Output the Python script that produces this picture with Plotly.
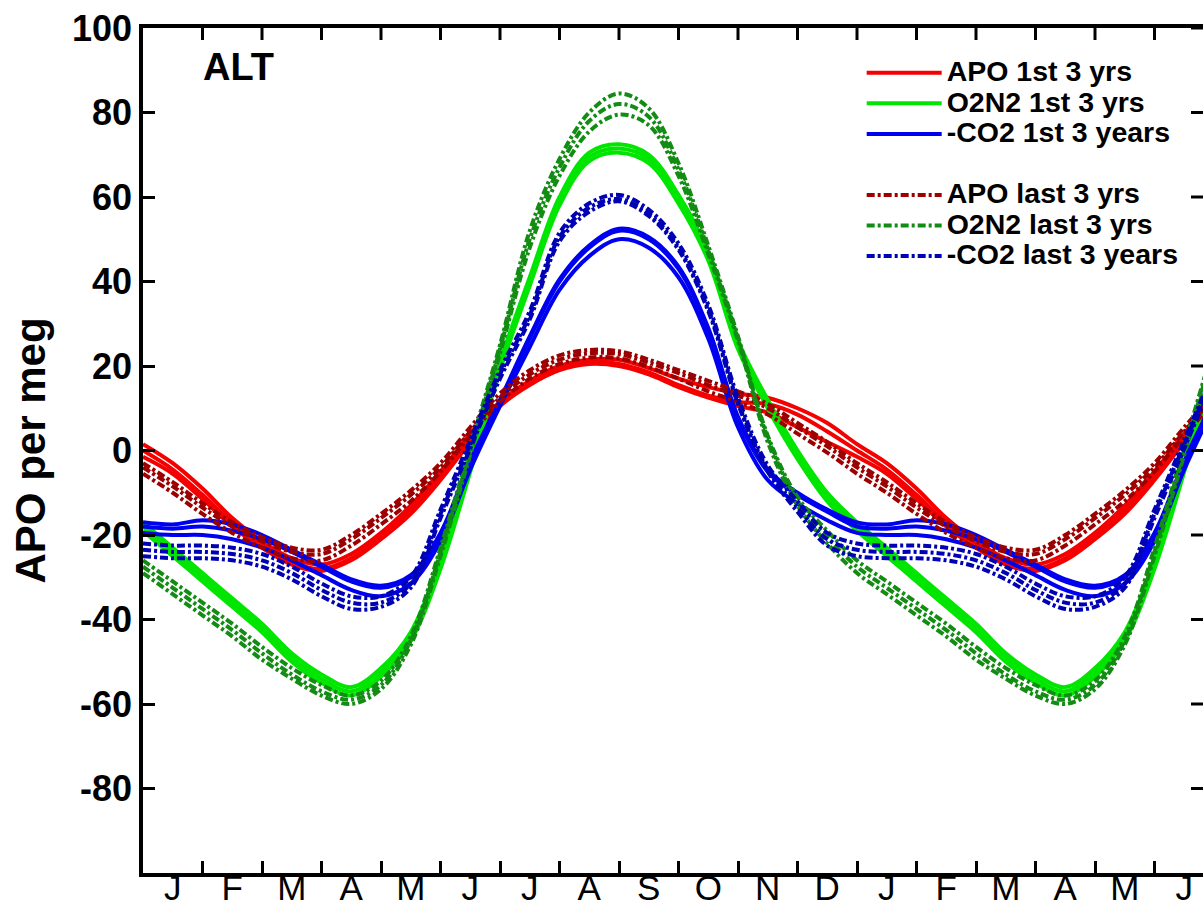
import plotly.graph_objects as go

# ---------------- data (values at half-month steps, Jan 1 = 0, one seasonal cycle) ----------------
MONTH_LABELS = ["J", "F", "M", "A", "M", "J", "J", "A", "S", "O", "N", "D",
                "J", "F", "M", "A", "M", "J"]
Y_TICKS = [-80, -60, -40, -20, 0, 20, 40, 60, 80, 100]
Y_TICK_TEXT = ["-80", "-60", "-40", "-20", "0", "20", "40", "60", "80", "100"]

# APO 1st 3 yrs (three years)
APO_FIRST_Y1 = [1.5, -3, -9, -16, -21.5, -25.5, -27, -24.5, -19.5, -13, -5, 4, 11.5, 16.5, 20, 21.5, 21.5, 19.5, 17, 15, 13.5, 12.5, 10, 6.5]
APO_FIRST_Y2 = [0, -4.5, -10.5, -17, -22, -26.5, -28, -25.5, -20.5, -14, -6, 3, 11, 16, 19.5, 21, 20.5, 18.5, 15.5, 13, 11.5, 11, 8.5, 4.5]
APO_FIRST_Y3 = [-1.5, -5.5, -11.5, -18, -23, -27, -28.5, -26, -21, -15, -7, 2, 10.5, 15.5, 19, 20.5, 20, 18, 15, 12.5, 10.5, 9, 5.5, 2]

# O2N2 1st 3 yrs
O2N2_FIRST_Y1 = [-17, -23, -29, -35, -41, -48, -53, -56, -51.5, -43, -26, -3, 21, 41, 60, 70.5, 72.5, 70, 60.5, 47, 26, 12, 0, -10]
O2N2_FIRST_Y2 = [-18, -24, -30, -36, -42, -49, -54, -57, -52.5, -44, -27, -4, 20, 40, 59, 69.5, 71.5, 69, 59.5, 46, 25, 11, -1, -11]
O2N2_FIRST_Y3 = [-19, -25, -31, -37, -43, -50, -55, -58, -53.5, -45, -28, -5, 19, 39, 58, 68.5, 70.5, 68, 58.5, 45, 24, 10, -2, -12]

# -CO2 1st 3 years
CO2_FIRST_Y1 = [-17, -17.5, -16.5, -17.5, -20, -23.5, -27, -30.5, -32, -29.5, -19.5, -2.5, 12, 27, 40.5, 48.5, 52.5, 50.5, 43.5, 29, 8, -4.5, -10, -14]
CO2_FIRST_Y2 = [-18, -18.5, -18, -19, -21, -24, -27.5, -31, -32.5, -30, -20, -3, 11.5, 26.5, 40, 48, 52, 50, 43, 28.5, 7.5, -5, -10.5, -14.5]
CO2_FIRST_Y3 = [-19.5, -20, -20, -21, -23, -26, -29.5, -33, -34.5, -31.5, -21.5, -4.5, 10.5, 24.5, 38, 46, 50, 48, 41, 26.5, 5.5, -7, -12.5, -16.5]

# APO last 3 yrs
APO_LAST_Y1 = [-3, -7.5, -12.5, -17, -20.5, -23, -23.5, -20, -15, -9.5, -3, 5.5, 13.5, 19, 22.5, 23.8, 23.5, 21.5, 19, 16.5, 14, 11, 6.5, 2]
APO_LAST_Y2 = [-4, -8.5, -13.5, -18, -21.5, -24, -24.5, -21, -16, -10.5, -4, 4.5, 12.5, 18, 21.5, 23, 22.8, 20.8, 18.3, 15.5, 13, 10, 5.5, 1]
APO_LAST_Y3 = [-5.5, -10, -15, -19.5, -23, -25.5, -26, -22.5, -17.5, -12, -5, 3.5, 11.5, 17, 20.5, 22, 21.8, 19.8, 17, 14, 11.5, 8.5, 4, -0.5]

# O2N2 last 3 yrs
O2N2_LAST_Y1 = [-26, -31, -36, -41, -46.5, -51.5, -55.5, -58, -54.5, -44, -23, 1, 25, 52, 69, 80, 84.5, 81, 68, 48.5, 27, 3.5, -11, -19]
O2N2_LAST_Y2 = [-27.5, -32.5, -37.5, -42.5, -48, -53, -57, -59, -55.5, -45, -24, 0, 24, 50, 67, 78, 82, 79, 66.5, 47.5, 26.5, 3, -12, -20.5]
O2N2_LAST_Y3 = [-29, -34, -39, -44, -49.5, -54, -58, -60, -56.5, -46, -25, -1, 23, 48, 65, 75.5, 79.5, 77, 65, 46.5, 26, 2, -13, -22]

# -CO2 last 3 years
CO2_LAST_Y1 = [-22, -22.5, -22.5, -23, -24.5, -27.5, -31.5, -34.5, -34.5, -30, -14, 2.5, 19, 33, 51.5, 58.5, 60.5, 57, 49, 34.5, 12.5, -3.5, -12, -19.5]
CO2_LAST_Y2 = [-23.5, -24, -24, -24.5, -26, -29, -33, -36, -36, -31.5, -15, 1.5, 18, 32, 50.5, 57.5, 59.5, 56, 48, 33.5, 11.5, -4.5, -13.5, -21]
CO2_LAST_Y3 = [-25, -25.5, -25.5, -26, -27.5, -30.5, -34.5, -37.5, -37, -32.5, -16, 0.5, 17, 31, 49.5, 56.5, 59, 55.5, 47.5, 33, 11, -5, -14.5, -22.5]

# x positions: half-month steps over the 18 months shown
X_MONTHS = [i / 2 for i in range(37)]
MONTH_BOUNDS = list(range(1, 18))
MONTH_CENTERS = [i + 0.5 for i in range(18)]

SERIES = [
    ("APO 1st 3 yrs", "first", "#f50000", "solid", [APO_FIRST_Y1, APO_FIRST_Y2, APO_FIRST_Y3]),
    ("O2N2 1st 3 yrs", "first", "#00e600", "solid", [O2N2_FIRST_Y1, O2N2_FIRST_Y2, O2N2_FIRST_Y3]),
    ("-CO2 1st 3 years", "first", "#0000f0", "solid", [CO2_FIRST_Y1, CO2_FIRST_Y2, CO2_FIRST_Y3]),
    ("APO last 3 yrs", "last", "#9c0000", "8px,3px,3px,3px", [APO_LAST_Y1, APO_LAST_Y2, APO_LAST_Y3]),
    ("O2N2 last 3 yrs", "last", "#128c12", "8px,3px,3px,3px", [O2N2_LAST_Y1, O2N2_LAST_Y2, O2N2_LAST_Y3]),
    ("-CO2 last 3 years", "last", "#0000b4", "8px,3px,3px,3px", [CO2_LAST_Y1, CO2_LAST_Y2, CO2_LAST_Y3]),
]

FONT = "Liberation Sans, Arial, Helvetica, sans-serif"
X_RANGE = [0, 1060 / 59.5]
Y_RANGE = [-100, 100]
TICK_LEN_PX = 12
PLOT_W_PX, PLOT_H_PX = 1060, 845

fig = go.Figure()
for name, group, color, dash, years in SERIES:
    for i, vals in enumerate(years):
        yvals = [vals[k % len(vals)] for k in range(len(X_MONTHS))]
        fig.add_trace(go.Scatter(
            x=X_MONTHS, y=yvals, mode="lines",
            line=dict(color=color, width=4, dash=dash, shape="spline", smoothing=1.0),
            name="<span style='font-size:28.5px'>" + name + "</span>",
            legendgroup=group, showlegend=(i == 0), hoverinfo="skip",
        ))

# inward ticks on the top and right frame edges (mirrors of the month / value ticks)
tick_line = dict(color="black", width=3)
shapes = []
for m in MONTH_BOUNDS:
    shapes.append(dict(type="line", xref="x", yref="y domain", x0=m, x1=m,
                       y0=1, y1=1 - TICK_LEN_PX / PLOT_H_PX, line=tick_line, layer="above"))
for v in Y_TICKS:
    shapes.append(dict(type="line", xref="x domain", yref="y", x0=1, x1=1 - TICK_LEN_PX / PLOT_W_PX,
                       y0=v, y1=v, line=tick_line, layer="above"))

fig.update_layout(
    width=1203, height=906,
    margin=dict(l=143, r=0, t=28, b=33),
    paper_bgcolor="white", plot_bgcolor="white",
    font=dict(family=FONT, color="black"),
    showlegend=True,
    legend=dict(
        x=0.678, y=0.971, xanchor="left", yanchor="top",
        bgcolor="rgba(0,0,0,0)", borderwidth=0,
        font=dict(family=FONT, size=21.2, color="black", weight="bold"),
        traceorder="grouped", tracegroupgap=30.5, itemwidth=75,
    ),
    xaxis=dict(
        range=X_RANGE, showgrid=False, zeroline=False, showline=True, linecolor="black",
        linewidth=3.5, mirror=True, automargin=False,
        tickmode="array", tickvals=MONTH_CENTERS, ticktext=MONTH_LABELS,
        ticks="", tickfont=dict(family=FONT, size=35, color="black"),
        ticklabelstandoff=-19,
        minor=dict(tickmode="array", tickvals=MONTH_BOUNDS, ticks="inside",
                   ticklen=TICK_LEN_PX, tickwidth=3, tickcolor="black", showgrid=False),
    ),
    yaxis=dict(
        range=Y_RANGE, showgrid=False, zeroline=False, showline=True, linecolor="black",
        linewidth=3.5, mirror=True, automargin=False,
        tickmode="array", tickvals=Y_TICKS, ticktext=Y_TICK_TEXT,
        ticks="inside", ticklen=TICK_LEN_PX, tickwidth=3, tickcolor="black",
        tickfont=dict(family=FONT, size=36, color="black", weight="bold"),
        title=dict(text="APO per meg", font=dict(family=FONT, size=42, color="black", weight="bold"),
                   standoff=14),
    ),
    shapes=shapes,
    annotations=[dict(
        text="ALT", xref="paper", yref="paper", x=0.055, y=0.954,
        xanchor="left", yanchor="middle", showarrow=False,
        font=dict(family=FONT, size=38, color="black", weight="bold"),
    )],
)

fig.write_html("out.html")
